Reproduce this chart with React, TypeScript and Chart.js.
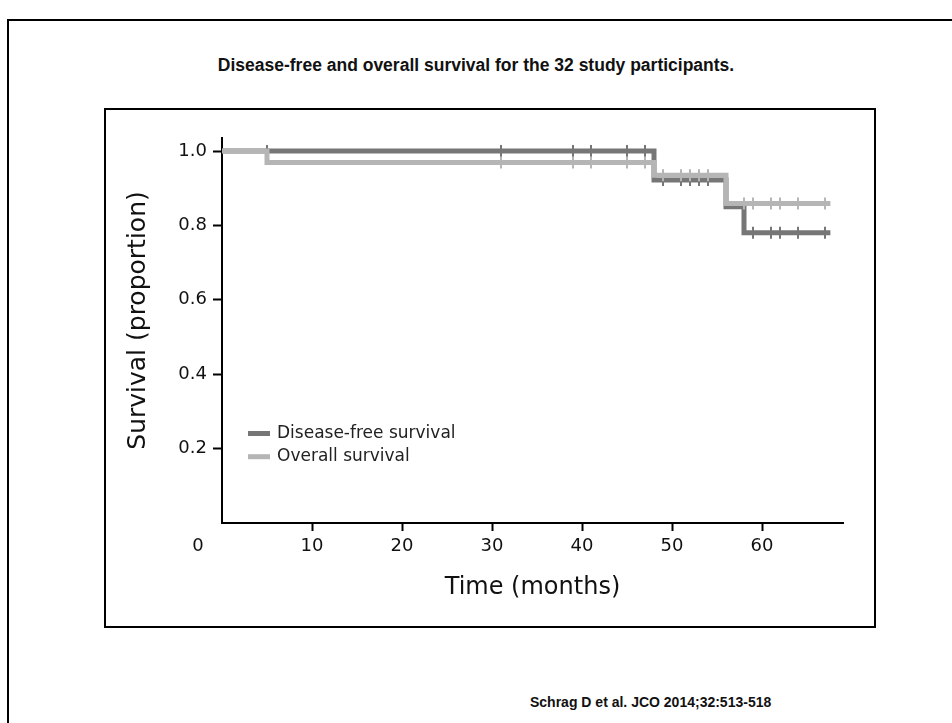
import React, { useEffect, useRef } from 'react';
import { Chart, registerables } from 'chart.js';

Chart.register(...registerables);

const TITLE = 'Disease-free and overall survival for the 32 study participants.';
const CITATION = 'Schrag D et al. JCO 2014;32:513-518';
const X_TITLE = 'Time (months)';
const Y_TITLE = 'Survival (proportion)';
const SERIES_NAMES = ['Disease-free survival', 'Overall survival'];

const X_TICKS = [10, 20, 30, 40, 50, 60];
const Y_TICKS = [0.2, 0.4, 0.6, 0.8, 1.0];
const ORIGIN_LABEL = '0';

// Kaplan-Meier step points (time, survival after the step)
const dfsTimes = [0, 48, 56, 58, 67.6];
const dfsSurv = [1, 0.922, 0.85, 0.78, 0.78];
const osTimes = [0, 5, 48, 56, 67.6];
const osSurv = [1, 0.969, 0.935, 0.859, 0.859];

// Censoring marks
const dfsCensorTimes = [5, 31, 39, 41, 45, 47, 49, 51, 52, 53, 54, 59, 61, 62, 64, 67];
const dfsCensorSurv = [1, 1, 1, 1, 1, 1, 0.922, 0.922, 0.922, 0.922, 0.922, 0.78, 0.78, 0.78, 0.78, 0.78];
const osCensorTimes = [31, 39, 41, 45, 47, 49, 51, 52, 53, 54, 58, 59, 61, 62, 64, 67];
const osCensorSurv = [0.969, 0.969, 0.969, 0.969, 0.969, 0.935, 0.935, 0.935, 0.935, 0.935, 0.859, 0.859, 0.859, 0.859, 0.859, 0.859];

const DARK = '#767676';
const LIGHT = '#b5b5b5';
const FONT = "'DejaVu Sans', sans-serif";

const pts = (xs: number[], ys: number[]) => xs.map((x, i) => ({ x, y: ys[i] }));

export default function App() {
  const canvasRef = useRef<HTMLCanvasElement | null>(null);

  useEffect(() => {
    document.body.style.margin = '0';
    const canvas = canvasRef.current;
    if (!canvas) return;

    const extras = {
      id: 'extras',
      afterDraw(chart: any) {
        const { ctx, chartArea, scales } = chart;
        ctx.save();
        // origin label
        ctx.fillStyle = '#111';
        ctx.font = `18px ${FONT}`;
        ctx.textAlign = 'center';
        ctx.textBaseline = 'middle';
        ctx.fillText(ORIGIN_LABEL, scales.x.getPixelForValue(0) - 24, chartArea.bottom + 23);
        // y axis title
        ctx.save();
        ctx.translate(chartArea.left - 84, (chartArea.top + chartArea.bottom) / 2 - 10);
        ctx.rotate(-Math.PI / 2);
        ctx.font = `25px ${FONT}`;
        ctx.fillText(Y_TITLE, 0, 0);
        ctx.restore();
        // legend
        const rows = [
          { label: SERIES_NAMES[0], color: DARK },
          { label: SERIES_NAMES[1], color: LIGHT },
        ];
        ctx.font = `17px ${FONT}`;
        ctx.textAlign = 'left';
        rows.forEach((r, i) => {
          const y = chartArea.bottom - 89.5 + i * 23.2;
          ctx.fillStyle = r.color;
          ctx.fillRect(chartArea.left + 26, y - 2.5, 22, 5);
          ctx.fillStyle = '#222';
          ctx.fillText(r.label, chartArea.left + 55, y);
        });
        ctx.restore();
      },
    };

    const chart = new Chart(canvas, {
      type: 'line',
      data: {
        datasets: [
          {
            label: SERIES_NAMES[1],
            data: pts(osTimes, osSurv),
            stepped: true,
            borderColor: LIGHT,
            borderWidth: 5,
            pointRadius: 0,
            fill: false,
            order: 1,
          },
          {
            label: SERIES_NAMES[0],
            data: pts(dfsTimes, dfsSurv),
            stepped: true,
            borderColor: DARK,
            borderWidth: 5,
            pointRadius: 0,
            fill: false,
            order: 3,
          },
          {
            label: 'os-censor',
            type: 'scatter',
            data: pts(osCensorTimes, osCensorSurv),
            showLine: false,
            pointStyle: 'line',
            rotation: 90,
            radius: 6,
            borderWidth: 2,
            borderColor: LIGHT,
            backgroundColor: LIGHT,
            order: 0,
          },
          {
            label: 'dfs-censor',
            type: 'scatter',
            data: pts(dfsCensorTimes, dfsCensorSurv),
            showLine: false,
            pointStyle: 'line',
            rotation: 90,
            radius: 6,
            borderWidth: 2,
            borderColor: DARK,
            backgroundColor: DARK,
            order: 2,
          },
        ] as any,
      },
      options: {
        animation: false,
        responsive: false,
        maintainAspectRatio: false,
        layout: { padding: { top: 28, right: 31, left: 0, bottom: 0 } },
        plugins: { legend: { display: false }, tooltip: { enabled: false }, title: { display: false } },
        scales: {
          x: {
            type: 'linear',
            min: 0,
            max: 69,
            afterBuildTicks: (s: any) => {
              s.ticks = X_TICKS.map((v) => ({ value: v }));
            },
            afterFit: (s: any) => {
              s.height = 103;
            },
            grid: { display: true, drawOnChartArea: false, drawTicks: true, tickLength: 8, tickWidth: 2, tickColor: '#000' },
            border: { display: true, color: '#000', width: 2 },
            ticks: { color: '#111', font: { family: FONT, size: 18 }, padding: 5, maxRotation: 0, autoSkip: false },
            title: { display: true, text: X_TITLE, color: '#111', font: { family: FONT, size: 24 }, padding: { top: 4, bottom: 24 } },
          },
          y: {
            type: 'linear',
            min: 0,
            max: 1.035,
            afterBuildTicks: (s: any) => {
              s.ticks = Y_TICKS.map((v) => ({ value: v }));
            },
            afterFit: (s: any) => {
              s.width = 116;
            },
            grid: { display: true, drawOnChartArea: false, drawTicks: true, tickLength: 9, tickWidth: 2, tickColor: '#000' },
            border: { display: true, color: '#000', width: 2 },
            ticks: {
              color: '#111',
              font: { family: FONT, size: 18 },
              padding: 6,
              autoSkip: false,
              callback: (v: any) => Number(v).toFixed(1),
            },
            title: { display: false, text: Y_TITLE },
          },
        },
      },
      plugins: [extras],
    });

    return () => chart.destroy();
  }, []);

  return (
    <div style={{ position: 'relative', width: 952, height: 723, overflow: 'hidden', background: '#fff' }}>
      <div
        style={{
          position: 'absolute',
          left: 7,
          top: 19,
          width: 1000,
          height: 800,
          border: '2px solid #000',
        }}
      />
      <div
        style={{
          position: 'absolute',
          left: 0,
          top: 54,
          width: 952,
          textAlign: 'center',
          font: "bold 17.5px 'Liberation Sans', Arial, sans-serif",
          lineHeight: '22px',
          color: '#111',
        }}
      >
        {TITLE}
      </div>
      <div
        style={{
          position: 'absolute',
          left: 104,
          top: 108,
          width: 768,
          height: 516,
          border: '2px solid #000',
          background: '#fff',
        }}
      >
        <canvas ref={canvasRef} width={768} height={516} style={{ display: 'block', width: 768, height: 516 }} />
      </div>
      <div
        style={{
          position: 'absolute',
          left: 530,
          top: 693,
          font: "bold 14px 'Liberation Sans', Arial, sans-serif",
          lineHeight: '18px',
          color: '#111',
          whiteSpace: 'nowrap',
        }}
      >
        {CITATION}
      </div>
    </div>
  );
}
